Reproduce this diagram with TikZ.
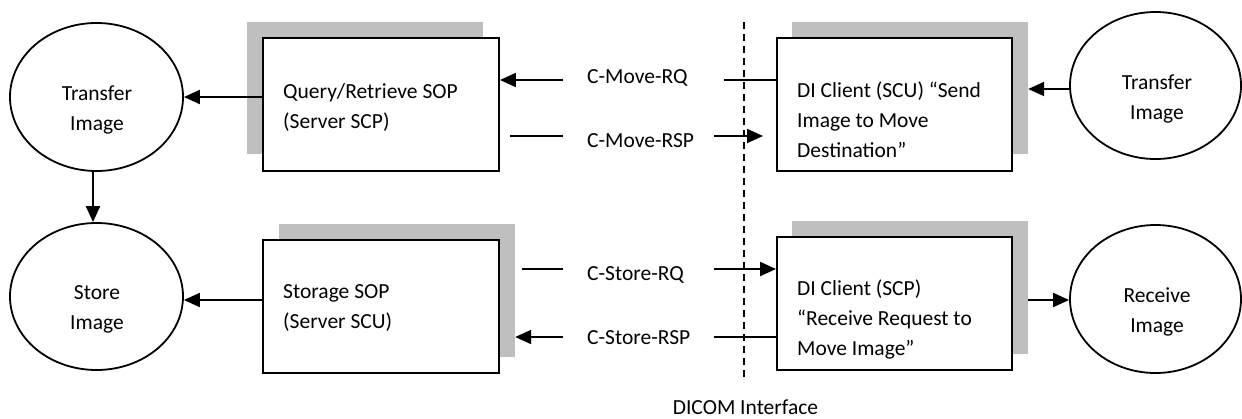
\documentclass[tikz,border=0pt]{standalone}
\usepackage{fontspec}
\setmainfont{Carlito}
\usetikzlibrary{arrows.meta,shapes.geometric}
\definecolor{shadowgray}{HTML}{BFBFBF}
\begin{document}
\begin{tikzpicture}[x=1pt,y=-1pt,
  every node/.style={font=\fontsize{21.5}{30}\selectfont},
  oval/.style={draw,line width=1.8pt,ellipse,minimum width=173pt,minimum height=147pt,inner sep=0pt},
  box/.style={draw,line width=1.9pt,fill=white,rectangle,inner sep=0pt},
  shade/.style={fill=shadowgray,rectangle,inner sep=0pt},
  txt/.style={align=left,inner sep=0pt},
  ctxt/.style={align=center,inner sep=0pt},
  conn/.style={line width=2pt},
  arr/.style={line width=2pt,-{Triangle[length=16pt,width=14pt]}}]
\useasboundingbox (0,0) rectangle (1242,418);
% shadows
\node[shade,minimum width=236pt,minimum height=132pt] (qrs) at (365,88) {};
\node[shade,minimum width=236pt,minimum height=133pt] (sgs) at (397,290.5) {};
\node[shade,minimum width=236pt,minimum height=132pt] (di1s) at (910,88) {};
\node[shade,minimum width=236pt,minimum height=133pt] (di2s) at (910,287.5) {};
% boxes
\node[box,minimum width=236pt,minimum height=133pt] (qr) at (381,104.5) {};
\node[box,minimum width=236pt,minimum height=133pt] (sg) at (381,306.5) {};
\node[box,minimum width=235pt,minimum height=133pt] (di1) at (894.5,104.5) {};
\node[box,minimum width=235pt,minimum height=133pt] (di2) at (894.5,303.5) {};
\node[txt,anchor=west] (qrt) at (283,108) {Query/Retrieve SOP\\(Server SCP)};
\node[txt,anchor=west] (sgt) at (283,308) {Storage SOP\\(Server SCU)};
\node[txt,anchor=west] (di1t) at (797,120) {DI Client (SCU) “Send\\Image to Move\\Destination”};
\node[txt,anchor=west] (di2t) at (797,319) {DI Client (SCP)\\“Receive Request to\\Move Image”};
% ellipses
\node[oval,minimum height=148pt] (ti1) at (96.5,97) {};
\node[ctxt] at (97,110) {Transfer\\Image};
\node[oval,minimum width=171pt] (ti2) at (1155.5,85.5) {};
\node[ctxt] at (1157,99) {Transfer\\Image};
\node[oval] (st) at (96.5,296.5) {};
\node[ctxt] at (97,309) {Store\\Image};
\node[oval,minimum width=171pt,minimum height=148pt] (rc) at (1155.5,299) {};
\node[ctxt] at (1157,312) {Receive\\Image};
% labels
\node[txt,anchor=west] (l1) at (587,78) {C-Move-RQ};
\node[txt,anchor=west] (l2) at (587,141) {C-Move-RSP};
\node[txt,anchor=west] (l3) at (587,275) {C-Store-RQ};
\node[txt,anchor=west] (l4) at (587,338) {C-Store-RSP};
\node[ctxt,anchor=base] (dic) at (745.5,414) {DICOM Interface};
% dashed interface line
\coordinate (d1) at (744,22);
\coordinate (d2) at (744,382);
\draw[line width=1.3pt,dash pattern=on 7pt off 5pt] (d1) -- (d2);
% coordinates for split connectors
\coordinate (a1) at (563,80);
\coordinate (a2) at (724,80);
\coordinate (b1) at (510,136);
\coordinate (b2) at (563,136);
\coordinate (b3) at (714,136);
\coordinate (b4) at (763,136);
\coordinate (c1) at (522,269);
\coordinate (c2) at (563,269);
\coordinate (c3) at (714,269);
\coordinate (e1) at (563,337);
\coordinate (e2) at (714,337);
% connectors
\draw[arr] (qr.west |- ti1.east) -- (ti1.east);
\draw[arr] (sg.west |- 0,300) -- (st.east |- 0,300);
\draw[arr] (ti1.south -| 93,0) -- (st.north -| 93,0);
\draw[arr] (ti2.west |- 0,89) -- (di1s.east |- 0,89);
\draw[arr] (di2s.east |- 0,300) -- (rc.west |- 0,300);
\draw[conn] (di1.west |- a2) -- (a2);
\draw[arr] (a1) -- (qr.east |- a1);
\draw[conn] (b1) -- (b2);
\draw[arr] (b3) -- (b4);
\draw[conn] (c1) -- (c2);
\draw[arr] (c3) -- (di2.west |- c3);
\draw[conn] (di2.west |- e2) -- (e2);
\draw[arr] (e1) -- (sgs.east |- e1);
\end{tikzpicture}
\end{document}
